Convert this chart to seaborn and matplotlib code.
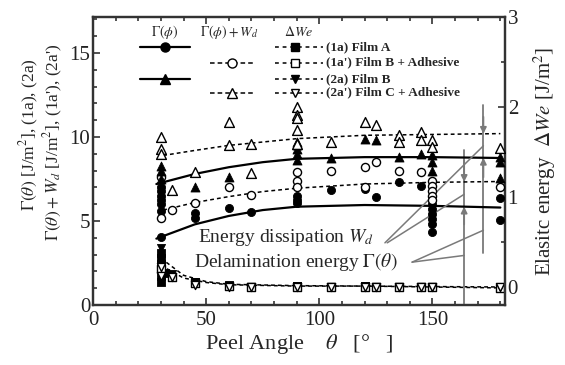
import numpy as np
import pandas as pd
import matplotlib
matplotlib.use("Agg")
import matplotlib.pyplot as plt
import seaborn as sns
from matplotlib.ticker import MultipleLocator

# ---------------- data ----------------
# Gamma(theta) (1a) Film A  - filled circles, left axis
th_g1a = [30, 30, 30, 30, 30, 30, 30, 45, 45, 60, 70, 90, 90, 90, 105, 120, 125, 135, 145,
          150, 150, 150, 150, 150, 150, 180, 180]
g1a = [7.0, 6.8, 6.5, 6.25, 6.0, 5.6, 4.05, 5.5, 5.2, 5.8, 5.55, 6.5, 6.25, 6.1, 6.85, 6.9, 6.4, 7.3, 7.1,
       6.0, 5.7, 5.4, 5.1, 4.8, 4.35, 6.35, 5.05]
# Gamma(theta)+Wd (1a') - open circles
th_g1b = [30, 30, 35, 45, 60, 70, 90, 90, 90, 105, 120, 120, 125, 135, 145, 150, 150, 150, 150, 150, 180]
g1b = [7.6, 5.2, 5.65, 6.1, 7.0, 6.55, 7.9, 7.4, 7.0, 8.0, 8.2, 7.0, 8.5, 8.0, 7.9, 7.4, 7.1, 6.8, 6.5, 6.25, 7.0]
# Gamma(theta) (2a) Film B - filled triangles
th_g2a = [30, 30, 30, 45, 60, 90, 90, 90, 90, 90, 105, 120, 125, 135, 145, 150, 150, 150, 180, 180, 180]
g2a = [8.3, 8.0, 7.5, 7.0, 7.6, 9.7, 9.5, 9.3, 9.0, 8.6, 8.75, 9.9, 9.8, 8.8, 9.0, 8.9, 8.5, 8.0, 8.8, 8.5, 7.55]
# Gamma(theta)+Wd (2a') - open triangles
th_g2b = [30, 30, 30, 35, 45, 60, 60, 70, 70, 90, 90, 90, 90, 90, 105, 120, 125, 135, 135, 145, 145,
          150, 150, 180]
g2b = [10.0, 9.3, 9.0, 6.85, 7.9, 10.9, 9.5, 9.6, 7.85, 11.8, 11.3, 11.1, 10.4, 9.6, 9.7, 10.9, 10.7, 10.1, 9.7,
       10.3, 9.8, 9.8, 9.4, 9.35]

# fitted curves (left axis)
th_fit = [28, 45, 60, 75, 90, 120, 150, 180]
fit_g1a = [3.95, 4.8, 5.3, 5.65, 5.85, 5.95, 5.9, 5.8]
fit_g2a = [7.2, 7.8, 8.2, 8.5, 8.7, 8.8, 8.8, 8.75]
th_fit_d = [31, 45, 60, 75, 90, 120, 150, 180]
fit_g1b = [5.65, 6.1, 6.45, 6.75, 6.95, 7.2, 7.3, 7.35]
fit_g2b = [8.9, 9.2, 9.5, 9.7, 9.9, 10.1, 10.15, 10.2]

# Elastic energy dWe (right axis)
th_we1a = [30, 30, 30, 30, 30, 30, 32, 45, 60, 90, 120, 150, 180]
we1a = [0.38, 0.32, 0.26, 0.2, 0.12, 0.05, 0.15, 0.06, 0.02, 0.01, 0.01, 0.0, 0.0]
th_we1b = [30, 35, 45, 60, 70, 90, 105, 120, 125, 135, 145, 150, 180]
we1b = [0.2, 0.11, 0.04, 0.01, 0.0, 0.0, 0.0, 0.0, 0.0, 0.0, 0.0, 0.0, -0.01]
th_we2a = [30, 30, 35, 45, 90, 120, 150, 180]
we2a = [0.43, 0.25, 0.14, 0.06, 0.01, 0.01, 0.0, 0.0]
th_we2b = [30, 30, 35, 45, 60, 70, 90, 105, 120, 125, 135, 145, 150, 180]
we2b = [0.22, 0.12, 0.11, 0.02, 0.0, 0.0, 0.0, 0.0, 0.0, 0.0, 0.0, 0.0, 0.0, 0.0]
th_we_fit = [30, 40, 50, 60, 90, 120, 150, 180]
fit_we_a = [0.32, 0.13, 0.06, 0.03, 0.015, 0.01, 0.005, 0.0]
fit_we_b = [0.24, 0.1, 0.05, 0.025, 0.01, 0.01, 0.0, -0.01]

# Wd arrows (peel angles where Wd is indicated)
arrow_theta = [164, 172.5]

legend_labels = ["(1a) Film A", "(1a') Film B + Adhesive", "(2a) Film B", "(2a') Film C + Adhesive"]

# ---------------- style ----------------
sns.set_theme(style="ticks")
plt.rcParams["font.family"] = ["Liberation Serif", "DejaVu Serif"]
plt.rcParams["mathtext.fontset"] = "stix"

fig = plt.figure(figsize=(5.65, 3.65), dpi=100)
ax = fig.add_axes([0.1646, 0.1644, 0.729, 0.789])
ax2 = ax.twinx()
ax.set_zorder(2)
ax.patch.set_visible(False)

K = "black"
GRAY = "#7a7a7a"

# fitted curves
for th, y in [(th_fit, fit_g1a), (th_fit, fit_g2a)]:
    sns.lineplot(x=th, y=y, ax=ax, color=K, lw=1.6, estimator=None, sort=False, zorder=2)
for th, y in [(th_fit_d, fit_g1b), (th_fit_d, fit_g2b)]:
    l = sns.lineplot(x=th, y=y, ax=ax, color=K, lw=1.1, estimator=None, sort=False, zorder=2)
    l.lines[-1].set_dashes((2.5, 2))

# scatter points (left)
sns.scatterplot(x=th_g1a, y=g1a, ax=ax, marker="o", color=K, edgecolor=K, s=34, linewidth=0.6, zorder=4)
sns.scatterplot(x=th_g1b, y=g1b, ax=ax, marker="o", color="white", edgecolor=K, s=34, linewidth=1.0, zorder=4)
sns.scatterplot(x=th_g2a, y=g2a, ax=ax, marker="^", color=K, edgecolor=K, s=42, linewidth=0.6, zorder=4)
sns.scatterplot(x=th_g2b, y=g2b, ax=ax, marker="^", color="white", edgecolor=K, s=50, linewidth=1.0, zorder=4)

# elastic energy (right axis)
for y in [fit_we_a, fit_we_b]:
    l = sns.lineplot(x=th_we_fit, y=y, ax=ax2, color=K, lw=1.1, estimator=None, sort=False, zorder=2)
    l.lines[-1].set_dashes((2.5, 2))
sns.scatterplot(x=th_we1a, y=we1a, ax=ax2, marker="s", color=K, edgecolor=K, s=26, linewidth=0.6, zorder=4)
sns.scatterplot(x=th_we1b, y=we1b, ax=ax2, marker="s", color="white", edgecolor=K, s=26, linewidth=1.0, zorder=4)
sns.scatterplot(x=th_we2a, y=we2a, ax=ax2, marker="v", color=K, edgecolor=K, s=34, linewidth=0.6, zorder=4)
sns.scatterplot(x=th_we2b, y=we2b, ax=ax2, marker="v", color="white", edgecolor=K, s=34, linewidth=1.0, zorder=4)

# Wd indicators
t1, t2 = arrow_theta
y1_dash = np.interp(t1, th_fit_d, fit_g1b)
y1_sol = np.interp(t1, th_fit, fit_g1a)
y2_dash = np.interp(t2, th_fit_d, fit_g2b)
y2_sol = np.interp(t2, th_fit, fit_g2a)
ax.plot([t1, t1], [0, 9.2], color=GRAY, lw=1.3, zorder=1)
ax.plot([t2, t2], [3.1, 11.9], color=GRAY, lw=1.3, zorder=1)
ap = dict(arrowstyle="-|>", color=GRAY, lw=1.3, mutation_scale=9, shrinkA=0, shrinkB=0)
ax.annotate("", xy=(t1, y1_dash), xytext=(t1, 8.6), arrowprops=ap, zorder=3)
ax.annotate("", xy=(t1, y1_sol), xytext=(t1, 4.8), arrowprops=ap, zorder=3)
ax.annotate("", xy=(t2, y2_dash), xytext=(t2, 11.2), arrowprops=ap, zorder=3)
ax.annotate("", xy=(t2, y2_sol), xytext=(t2, 7.6), arrowprops=ap, zorder=3)

ax.text(46.5, 4.0, r"Energy dissipation $W_d$", fontsize=14, va="center", ha="left", zorder=5)
ax.text(44.7, 2.55, r"Delamination energy $\Gamma(\theta)$", fontsize=14, va="center", ha="left", zorder=5)
for (xa, ya), (xb, yb) in [((129, 3.7), (t2, (y2_dash + y2_sol) / 2)),
                           ((130, 3.7), (t1, (y1_dash + y1_sol) / 2)),
                           ((141, 2.55), (t2, 4.45)),
                           ((141, 2.55), (t1, 2.95))]:
    ax.plot([xa, xb], [ya, yb], color=GRAY, lw=1.1, zorder=3)

# axes
ax.set_xlim(0, 182)
ax.set_ylim(0, 17.14)
ax2.set_ylim(-0.2, 3.0)
ax.xaxis.set_major_locator(MultipleLocator(50))
ax.xaxis.set_minor_locator(MultipleLocator(10))
ax.yaxis.set_major_locator(MultipleLocator(5))
ax.yaxis.set_minor_locator(MultipleLocator(1))
ax2.yaxis.set_major_locator(MultipleLocator(1))
ax2.yaxis.set_minor_locator(MultipleLocator(0.5))
ax.tick_params(which="both", direction="in", top=True, right=False, labelsize=15, width=1.1, colors="#222222",
               pad=2)
ax.tick_params(which="major", length=5)
ax.tick_params(which="minor", length=3)
ax.tick_params(axis="x", pad=4)
ax2.tick_params(which="both", direction="in", labelsize=15, width=1.1, colors="#222222", pad=2)
ax2.tick_params(which="major", length=5)
ax2.tick_params(which="minor", length=3)
for a in (ax, ax2):
    for s in a.spines.values():
        s.set_linewidth(1.6)
        s.set_color("#333333")
ax.set_xlabel(r"Peel Angle    $\theta$   [°   ]", fontsize=16, labelpad=2)
ax.set_ylabel("")
ax2.set_ylabel(r"Elasitc energy  $\Delta We$ [J/m$^2$]", fontsize=15, labelpad=10)
fig.text(0.052, 0.63, r"$\Gamma(\theta)$ [J/m$^2$], (1a), (2a)", rotation=90, fontsize=12.5,
         ha="center", va="center")
fig.text(0.094, 0.61, r"$\Gamma(\theta)+W_d$ [J/m$^2$], (1a'), (2a')", rotation=90, fontsize=12.5,
         ha="center", va="center")

# legend (drawn in axes fraction)
tr = ax.transAxes
ax.text(0.175, 0.948, r"$\Gamma(\phi)$", transform=tr, fontsize=10, ha="center", va="center")
ax.text(0.33, 0.948, r"$\Gamma(\phi)+W_d$", transform=tr, fontsize=10, ha="center", va="center")
ax.text(0.50, 0.948, r"$\Delta We$", transform=tr, fontsize=10, ha="center", va="center")
rows = [0.895, 0.842, 0.785, 0.737]
ax.plot([0.114, 0.235], [rows[0]] * 2, transform=tr, color=K, lw=1.6)
ax.plot([0.175], [rows[0]], transform=tr, marker="o", ms=6.5, color=K)
ax.plot([0.114, 0.235], [rows[2]] * 2, transform=tr, color=K, lw=1.6)
ax.plot([0.175], [rows[2]], transform=tr, marker="^", ms=7.5, color=K)
ax.plot([0.284, 0.388], [rows[1]] * 2, transform=tr, color=K, lw=1.1, dashes=(3, 2))
ax.plot([0.337], [rows[1]], transform=tr, marker="o", ms=6.5, mfc="white", mec=K)
ax.plot([0.284, 0.388], [rows[3]] * 2, transform=tr, color=K, lw=1.1, dashes=(3, 2))
ax.plot([0.337], [rows[3]], transform=tr, marker="^", ms=7.5, mfc="white", mec=K)
mk = [("s", K), ("s", "white"), ("v", K), ("v", "white")]
for r, (m, fc), lab in zip(rows, mk, legend_labels):
    ax.plot([0.442, 0.558], [r, r], transform=tr, color=K, lw=1.1, dashes=(2.5, 2.5))
    ax.plot([0.49], [r], transform=tr, marker=m, ms=6, mfc=fc, mec=K)
    ax.text(0.565, r, lab, transform=tr, fontsize=9.5, fontweight="bold", ha="left", va="center")

fig.savefig("out.png", dpi=100)
